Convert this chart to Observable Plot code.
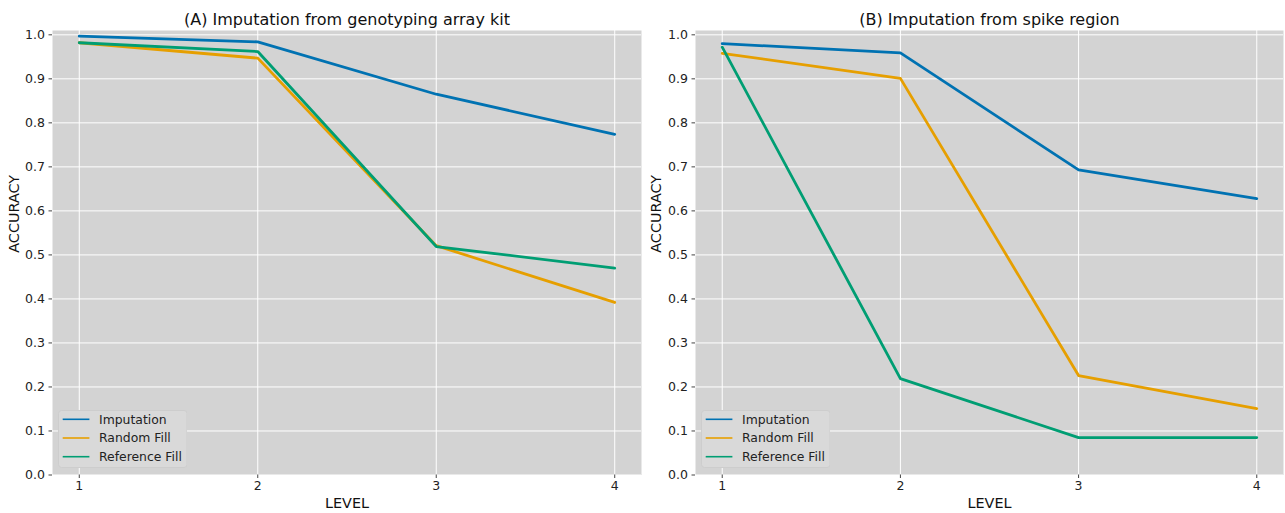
<!DOCTYPE html>
<html><head><meta charset="utf-8">
<script src="https://cdn.jsdelivr.net/npm/d3@7"></script>
<script src="https://cdn.jsdelivr.net/npm/@observablehq/plot@0.6"></script>
<style>
body{margin:0;background:#fff;font-family:"DejaVu Sans",sans-serif;}
#root{display:flex;width:1285px;height:513px;}
.panel{position:relative;}
.legend{position:absolute;}
</style></head><body><div id="root"></div>
<script>
const levels = [1, 2, 3, 4];
const seriesNames = ["Imputation", "Random Fill", "Reference Fill"];
const seriesColors = ["#0072B2", "#E69F00", "#009E73"];
const yTicks = [0, 0.1, 0.2, 0.3, 0.4, 0.5, 0.6, 0.7, 0.8, 0.9, 1.0];
const titles = ["(A) Imputation from genotyping array kit", "(B) Imputation from spike region"];
const xLabel = "LEVEL";
const yLabel = "ACCURACY";

// Panel A: genotyping array kit
const arrayImputation = [0.997, 0.984, 0.865, 0.774];
const arrayRandom = [0.982, 0.947, 0.521, 0.392];
const arrayReference = [0.982, 0.962, 0.519, 0.470];
// Panel B: spike region
const spikeImputation = [0.980, 0.959, 0.693, 0.628];
const spikeRandom = [0.958, 0.901, 0.226, 0.151];
const spikeReference = [0.972, 0.219, 0.085, 0.085];

function rowsOf(seriesValues) {
  const rows = [];
  seriesValues.forEach((vals, s) => {
    levels.forEach((l, i) => rows.push({level: l, value: vals[i], series: seriesNames[s]}));
  });
  return rows;
}

const panels = [
  {title: titles[0], rows: rowsOf([arrayImputation, arrayRandom, arrayReference]), width: 642, ml: 52, mr: 1},
  {title: titles[1], rows: rowsOf([spikeImputation, spikeRandom, spikeReference]), width: 643, ml: 53, mr: 2}
];

const root = document.getElementById("root");
for (const p of panels) {
  const wrap = document.createElement("div");
  wrap.className = "panel";
  wrap.style.width = p.width + "px";
  const chart = Plot.plot({
    width: p.width,
    height: 513,
    marginTop: 30,
    marginBottom: 38.5,
    marginLeft: p.ml,
    marginRight: p.mr,
    style: {fontFamily: "DejaVu Sans, sans-serif", fontSize: "12.5px", color: "#222", background: "white", overflow: "visible"},
    x: {type: "linear", domain: [0.85, 4.15]},
    y: {domain: [0, 1.0098]},
    color: {domain: seriesNames, range: seriesColors},
    marks: [
      Plot.frame({fill: "#d3d3d3", stroke: "none"}),
      Plot.gridX(levels, {stroke: "white", strokeOpacity: 1, strokeWidth: 1}),
      Plot.gridY(yTicks, {stroke: "white", strokeOpacity: 1, strokeWidth: 1}),
      Plot.axisX(levels, {tickSize: 3.5, tickPadding: 3, tickFormat: d => String(d), label: null, stroke: "#444"}),
      Plot.axisY(yTicks, {tickSize: 3.5, tickPadding: 4, tickFormat: d3.format(".1f"), label: null, stroke: "#444"}),
      Plot.lineY(p.rows, {x: "level", y: "value", stroke: "series", z: "series", strokeWidth: 2.8}),
      Plot.text([p.title], {frameAnchor: "top", lineAnchor: "middle", dy: -11, fontSize: 16, fill: "#111"}),
      Plot.text([xLabel], {frameAnchor: "bottom", lineAnchor: "middle", dy: 28.5, fontSize: 14.4, fill: "#111"}),
      Plot.text([yLabel], {frameAnchor: "left", dx: -(p.ml - 14), rotate: -90, fontSize: 14.4, fill: "#111"})
    ]
  });
  wrap.appendChild(chart);

  // legend overlay inside the plot area (lower left)
  const lw = 129.5, lh = 58;
  const leg = d3.create("svg").attr("class", "legend")
    .attr("width", lw).attr("height", lh)
    .style("left", (p.ml + 5.5) + "px").style("top", "410px");
  leg.append("rect").attr("x", 0.5).attr("y", 0.5).attr("width", lw - 1).attr("height", lh - 1)
    .attr("rx", 3).attr("fill", "#d9d9d9").attr("stroke", "#cdcdcd");
  seriesNames.forEach((name, i) => {
    const cy = 9.3 + i * 18.7;
    leg.append("line").attr("x1", 4.7).attr("x2", 31.4).attr("y1", cy).attr("y2", cy)
      .attr("stroke", seriesColors[i]).attr("stroke-width", 1.6);
    leg.append("text").attr("x", 41).attr("y", cy).attr("dy", "0.35em")
      .attr("font-family", "DejaVu Sans, sans-serif").attr("font-size", 12.4).attr("fill", "#222")
      .text(name);
  });
  wrap.appendChild(leg.node());
  root.appendChild(wrap);
}
</script>
</body></html>
